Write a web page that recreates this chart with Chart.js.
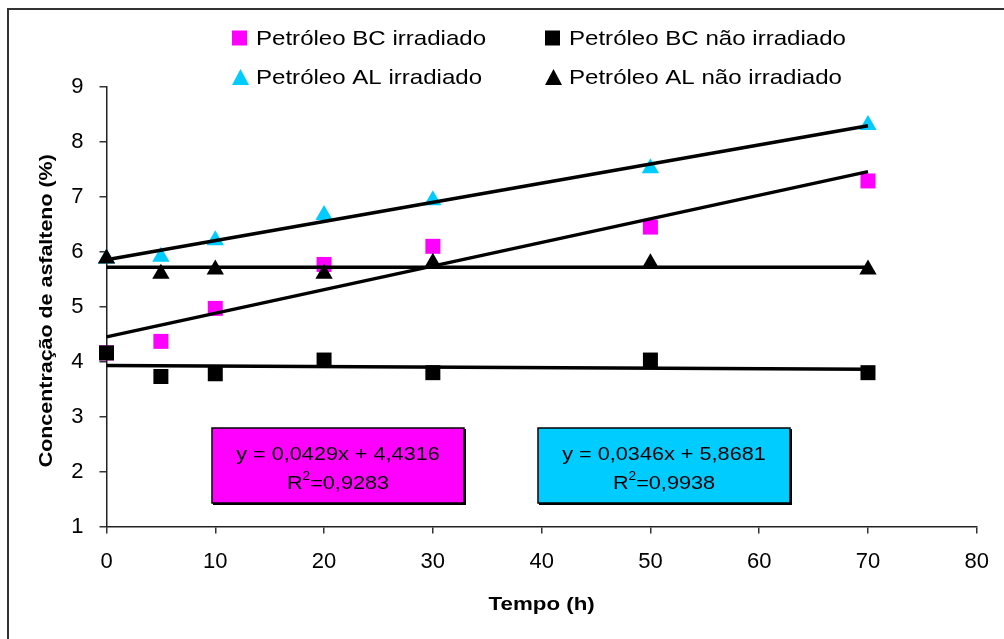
<!DOCTYPE html>
<html>
<head>
<meta charset="utf-8">
<script src="https://cdn.jsdelivr.net/npm/chart.js@4/dist/chart.umd.min.js"></script>
<style>
  html, body { margin: 0; padding: 0; background: #fff; }
  #wrap { width: 1004px; height: 639px; position: relative; }
</style>
</head>
<body>
<div id="wrap"><canvas id="chart" width="1004" height="639"></canvas></div>
<script>
// ---- data ----
const tempos = [0, 5, 10, 20, 30, 50, 70];
const bcIrradiado    = [4.16, 4.37, 4.97, 5.77, 6.10, 6.45, 7.29];
const bcNaoIrradiado = [4.16, 3.73, 3.78, 4.03, 3.80, 4.03, 3.80];
const alIrradiado    = [5.88, 5.91, 6.21, 6.67, 6.94, 7.52, 8.31];
const alNaoIrradiado = [5.88, 5.60, 5.68, 5.60, 5.80, 5.79, 5.68];

const seriesNames = ['Petróleo BC irradiado', 'Petróleo BC não irradiado',
                     'Petróleo AL irradiado', 'Petróleo AL não irradiado'];
const xTicks = [0, 10, 20, 30, 40, 50, 60, 70, 80];
const yTicks = [1, 2, 3, 4, 5, 6, 7, 8, 9];
const equacoes = ['y = 0,0429x + 4,4316', 'y = 0,0346x + 5,8681'];
const r2 = ['0,9283', '0,9938'];

const MAGENTA = '#FF00FF';
const CIANO = '#00CCFF';
const FONT = '"Liberation Sans", Arial, sans-serif';

function pts(ys) { return tempos.map((t, i) => ({ x: t, y: ys[i] })); }

// linear trend (least squares) from the series, drawn from first to last x
function tendencia(ys) {
  const n = tempos.length;
  const mx = tempos.reduce((a, b) => a + b, 0) / n;
  const my = ys.reduce((a, b) => a + b, 0) / n;
  let sxy = 0, sxx = 0;
  for (let i = 0; i < n; i++) { sxy += (tempos[i] - mx) * (ys[i] - my); sxx += (tempos[i] - mx) ** 2; }
  const m = sxy / sxx, b = my - m * mx;
  const x0 = tempos[0], x1 = tempos[n - 1];
  return [{ x: x0, y: b + m * x0 }, { x: x1, y: b + m * x1 }];
}

function serie(label, ys, color, style, radius, order) {
  return { label, data: pts(ys), showLine: false, pointStyle: style, pointRadius: radius,
    pointHoverRadius: radius, backgroundColor: color, borderColor: color, pointBorderWidth: 0,
    order, clip: false };
}
function linha(ys) {
  return { label: '', data: tendencia(ys), showLine: true, borderColor: '#000', borderWidth: 3.5,
    pointRadius: 0, order: 1, clip: false };
}

// texto esticado na horizontal (o original foi redimensionado)
function textoLargo(ctx, txt, x, y, sx, align) {
  ctx.save();
  ctx.translate(x, y);
  ctx.scale(sx, 1);
  ctx.textAlign = align || 'left';
  ctx.fillText(txt, 0, 0);
  ctx.restore();
}

const extras = {
  id: 'extras',
  beforeDraw(chart) {
    const ctx = chart.ctx;
    ctx.save();
    ctx.fillStyle = '#fff';
    ctx.fillRect(0, 0, chart.width, chart.height);
    ctx.strokeStyle = '#333';
    ctx.lineWidth = 2;
    ctx.strokeRect(8, 9, 1100, 800);
    ctx.restore();
  },
  afterDraw(chart) {
    const ctx = chart.ctx;
    const a = chart.chartArea;
    ctx.save();
    ctx.fillStyle = '#000';
    ctx.textBaseline = 'alphabetic';

    // legend 2x2
    const cores = [MAGENTA, '#000', CIANO, '#000'];
    const cols = [232, 545], rows = [38, 77];
    seriesNames.forEach((nome, i) => {
      const cx = cols[i % 2], cy = rows[Math.floor(i / 2)];
      ctx.fillStyle = cores[i];
      if (i < 2) {
        ctx.fillRect(cx, cy - 7.5, 15, 15);
      } else {
        ctx.beginPath();
        ctx.moveTo(cx + 8.5, cy - 8);
        ctx.lineTo(cx + 17, cy + 8);
        ctx.lineTo(cx, cy + 8);
        ctx.closePath();
        ctx.fill();
      }
      ctx.fillStyle = '#000';
      ctx.font = '21px ' + FONT;
      textoLargo(ctx, nome, cx + 24, cy + 7, 1.146);
    });

    // axis titles
    ctx.font = 'bold 18px ' + FONT;
    textoLargo(ctx, 'Tempo (h)', (a.left + a.right) / 2, 610, 1.24, 'center');
    ctx.save();
    ctx.translate(52, (a.top + a.bottom) / 2 + 4);
    ctx.rotate(-Math.PI / 2);
    textoLargo(ctx, 'Concentração de asfalteno (%)', 0, 0, 1.19, 'center');
    ctx.restore();

    // equation boxes
    const caixas = [{ x: 212, cor: MAGENTA }, { x: 538, cor: CIANO }];
    caixas.forEach((c, i) => {
      const w = 252, h = 75, y = 428;
      ctx.fillStyle = c.cor;
      ctx.fillRect(c.x, y, w, h);
      ctx.strokeStyle = '#000';
      ctx.lineWidth = 1.5;
      ctx.strokeRect(c.x, y, w, h);
      ctx.lineWidth = 2;
      ctx.beginPath();
      ctx.moveTo(c.x + 1, y + h + 1); ctx.lineTo(c.x + w + 1, y + h + 1); ctx.lineTo(c.x + w + 1, y + 1);
      ctx.stroke();
      const mid = c.x + w / 2;
      ctx.fillStyle = '#000';
      ctx.font = '19px ' + FONT;
      textoLargo(ctx, equacoes[i], mid, y + 32, 1.14, 'center');
      // R²=...
      const resto = '=' + r2[i];
      const wR = ctx.measureText('R').width * 1.14;
      ctx.font = '12px ' + FONT;
      const w2 = ctx.measureText('2').width * 1.14;
      ctx.font = '19px ' + FONT;
      const wResto = ctx.measureText(resto).width * 1.14;
      let sx0 = mid - (wR + w2 + wResto) / 2;
      textoLargo(ctx, 'R', sx0, y + 61, 1.14);
      ctx.font = '12px ' + FONT;
      textoLargo(ctx, '2', sx0 + wR, y + 52, 1.14);
      ctx.font = '19px ' + FONT;
      textoLargo(ctx, resto, sx0 + wR + w2, y + 61, 1.14);
    });
    ctx.restore();
  }
};

new Chart(document.getElementById('chart'), {
  type: 'scatter',
  data: {
    datasets: [
      serie(seriesNames[0], bcIrradiado, MAGENTA, 'rect', 10.6, 3),
      serie(seriesNames[2], alIrradiado, CIANO, 'triangle', 10, 3),
      serie(seriesNames[1], bcNaoIrradiado, '#000', 'rect', 10.6, 2),
      serie(seriesNames[3], alNaoIrradiado, '#000', 'triangle', 10, 2),
      linha(bcIrradiado),
      linha(alIrradiado),
      linha(bcNaoIrradiado),
      linha(alNaoIrradiado)
    ]
  },
  options: {
    responsive: false,
    animation: false,
    layout: { padding: { top: 87, right: 27, left: 0, bottom: 0 } },
    plugins: { legend: { display: false }, tooltip: { enabled: false } },
    scales: {
      x: {
        type: 'linear', min: xTicks[0], max: xTicks[xTicks.length - 1],
        afterBuildTicks: s => { s.ticks = xTicks.map(v => ({ value: v })); },
        afterFit: s => { s.height = 112.5; },
        border: { color: '#222', width: 1.5 },
        grid: { drawOnChartArea: false, drawTicks: true, tickLength: 7, color: '#333', lineWidth: 1.5 },
        ticks: { color: '#000', font: { family: FONT, size: 22 }, padding: 15, maxRotation: 0 }
      },
      y: {
        type: 'linear', min: yTicks[0], max: yTicks[yTicks.length - 1],
        afterBuildTicks: s => { s.ticks = yTicks.map(v => ({ value: v })); },
        afterFit: s => { s.width = 106.5; },
        border: { color: '#222', width: 1.5 },
        grid: { drawOnChartArea: false, drawTicks: true, tickLength: 7, color: '#333', lineWidth: 1.5 },
        ticks: { color: '#000', font: { family: FONT, size: 22 }, padding: 16 }
      }
    }
  },
  plugins: [extras]
});
</script>
</body>
</html>
